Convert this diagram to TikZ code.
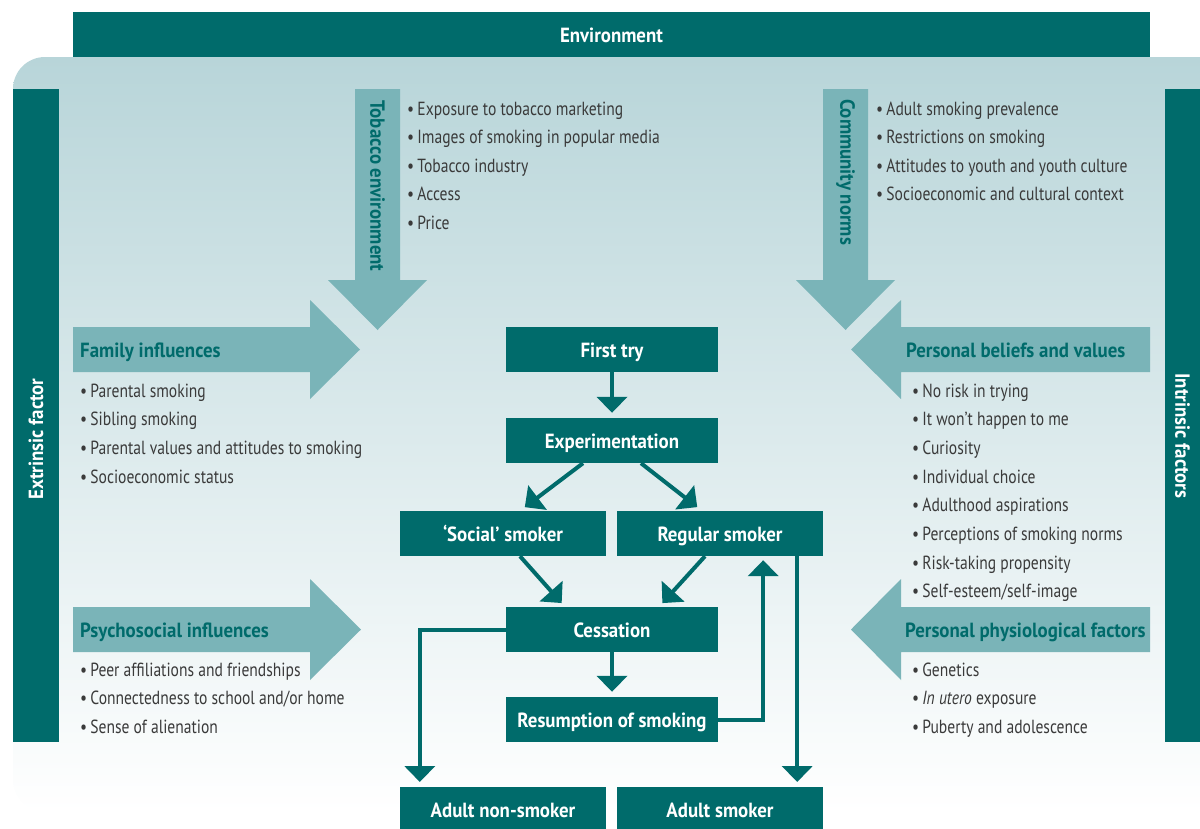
\documentclass[tikz,border=0pt]{standalone}
\usepackage{fontspec}
\setmainfont{PT Sans}[FakeStretch=0.82]
\newfontfamily\boldf{PT Sans}[FakeStretch=0.92]
\usetikzlibrary{arrows.meta}
\definecolor{dteal}{HTML}{006B6B}
\definecolor{lteal}{HTML}{7AB4B8}
\definecolor{bgtop}{HTML}{B8D5D9}
\definecolor{bgmid}{HTML}{D8E8EA}
\definecolor{txt}{HTML}{3A3A3A}
\tikzset{
  boldtext/.style={font=\boldf\bfseries\fontsize{20.5}{24}\selectfont},
  flowbox/.style={fill=dteal, text=white, boldtext, minimum width=212pt, minimum height=45pt, inner sep=0pt, text height=15pt, text depth=0pt},
  widebox/.style={flowbox, minimum width=206pt},
  bar/.style={fill=dteal},
  bartext/.style={text=white, boldtext, inner sep=0pt},
  bigarrow/.style={fill=lteal},
  arrlabel/.style={text=dteal, boldtext, inner sep=0pt},
  item/.style={text=txt, font=\fontsize{19}{22}\selectfont, inner sep=0pt, anchor=base west},
  flow/.style={draw=dteal, line width=4pt, -{Triangle[width=30pt,length=16pt]}, shorten >=5pt}
}
\begin{document}
\begin{tikzpicture}[x=1pt,y=-1pt]
\useasboundingbox (0,0) rectangle (1200,828);
% background
\shade[top color=bgtop, middle color=bgmid, bottom color=white, rounded corners=32pt]
  (13,812) -- (13,57) -- (1230,57) -- (1230,812) -- cycle;
% environment bar
\fill[bar] (73,12) rectangle (1150,57);
\node[bartext] (env) at (611.5,35) {Environment};
% side bars
\fill[bar] (13,89) rectangle (59,742);
\node[bartext, rotate=90] (extr) at (36,439) {Extrinsic factor};
\fill[bar] (1165,89) rectangle (1200,742);
\node[bartext, rotate=-90] (intr) at (1182.5,436) {Intrinsic factors};
% big light arrows
\fill[bigarrow] (355,89) -- (400,89) -- (400,280) -- (427,280) -- (377.5,330) -- (328,280) -- (355,280) -- cycle;
\node[arrlabel, rotate=-90] (tobl) at (377.5,186) {Tobacco environment};
\fill[bigarrow] (823,89) -- (868,89) -- (868,280) -- (895,280) -- (845.5,330) -- (796,280) -- (823,280) -- cycle;
\node[arrlabel, rotate=-90] (coml) at (845.5,172) {Community norms};
\fill[bigarrow] (73,327) -- (310,327) -- (310,300) -- (360,349.5) -- (310,399) -- (310,372) -- (73,372) -- cycle;
\node[arrlabel, anchor=base west] (faml) at (80,357) {Family influences};
\fill[bigarrow] (73,607) -- (310,607) -- (310,579) -- (361,629.5) -- (310,680) -- (310,652) -- (73,652) -- cycle;
\node[arrlabel, anchor=base west] (psyl) at (80,637) {Psychosocial influences};
\fill[bigarrow] (1150,327) -- (901,327) -- (901,300) -- (851,349.5) -- (901,399) -- (901,372) -- (1150,372) -- cycle;
\node[arrlabel, anchor=base west] (perl) at (906,357) {Personal beliefs and values};
\fill[bigarrow] (1150,607) -- (901,607) -- (901,579) -- (851,629.5) -- (901,680) -- (901,652) -- (1150,652) -- cycle;
\node[arrlabel, anchor=base west] (phyl) at (905,637) {Personal physiological factors};
% lists
\foreach \t [count=\i] in {Exposure to tobacco marketing, Images of smoking in popular media, Tobacco industry, Access, Price}
  \node[item, name=tob\i] at (407,115+28.5*\i-28.5) {\textbullet\,\t};
\foreach \t [count=\i] in {Adult smoking prevalence, Restrictions on smoking, Attitudes to youth and youth culture, Socioeconomic and cultural context}
  \node[item, name=com\i] at (876,115+28.5*\i-28.5) {\textbullet\,\t};
\foreach \t [count=\i] in {Parental smoking, Sibling smoking, Parental values and attitudes to smoking, Socioeconomic status}
  \node[item, name=fam\i] at (80,397+28.7*\i-28.7) {\textbullet\,\t};
\foreach \t [count=\i] in {Peer affiliations and friendships, Connectedness to school and/or home, Sense of alienation}
  \node[item, name=psy\i] at (80,676+28.7*\i-28.7) {\textbullet\,\t};
\foreach \t [count=\i] in {No risk in trying, It won’t happen to me, Curiosity, Individual choice, Adulthood aspirations, Perceptions of smoking norms, Risk-taking propensity, Self-esteem/self-image}
  \node[item, name=per\i] at (912,397+28.7*\i-28.7) {\textbullet\,\t};
\foreach \t [count=\i] in {Genetics, {{\itshape In utero} exposure}, Puberty and adolescence}
  \node[item, name=phy\i] at (912,676+28.7*\i-28.7) {\textbullet\,\t};
% flow boxes
\node[flowbox] (first) at (612,349.5) {First try};
\node[flowbox] (exp) at (612,440.5) {Experimentation};
\node[widebox] (social) at (503,533.5) {‘Social’ smoker};
\node[widebox] (regular) at (720,533.5) {Regular smoker};
\node[flowbox] (cess) at (612,629.5) {Cessation};
\node[flowbox] (resum) at (612,719.5) {Resumption of smoking};
\node[widebox, anchor=north] (nonsm) at (503,787) {Adult non-smoker};
\node[widebox, anchor=north] (adult) at (720,787) {Adult smoker};
% connectors
\draw[flow] (first) -- (exp);
\draw[flow, shorten >=6pt] ([xshift=-29pt]exp.south) -- ([xshift=17pt]social.north);
\draw[flow, shorten >=6pt] ([xshift=29pt]exp.south) -- ([xshift=-18pt]regular.north);
\draw[flow] ([xshift=17pt]social.south) -- ([xshift=-47pt]cess.north);
\draw[flow] ([xshift=-15pt]regular.south) -- ([xshift=47pt]cess.north);
\draw[flow] (cess) -- (resum);
\draw[flow, shorten >=4pt] (resum.east) -| ([xshift=-60pt]regular.south east);
\draw[flow] (cess.west) -| ([xshift=20pt]nonsm.north west);
\draw[flow] ([xshift=-26pt]regular.south east) -- ([xshift=-26pt]adult.north east);
\end{tikzpicture}
\end{document}
